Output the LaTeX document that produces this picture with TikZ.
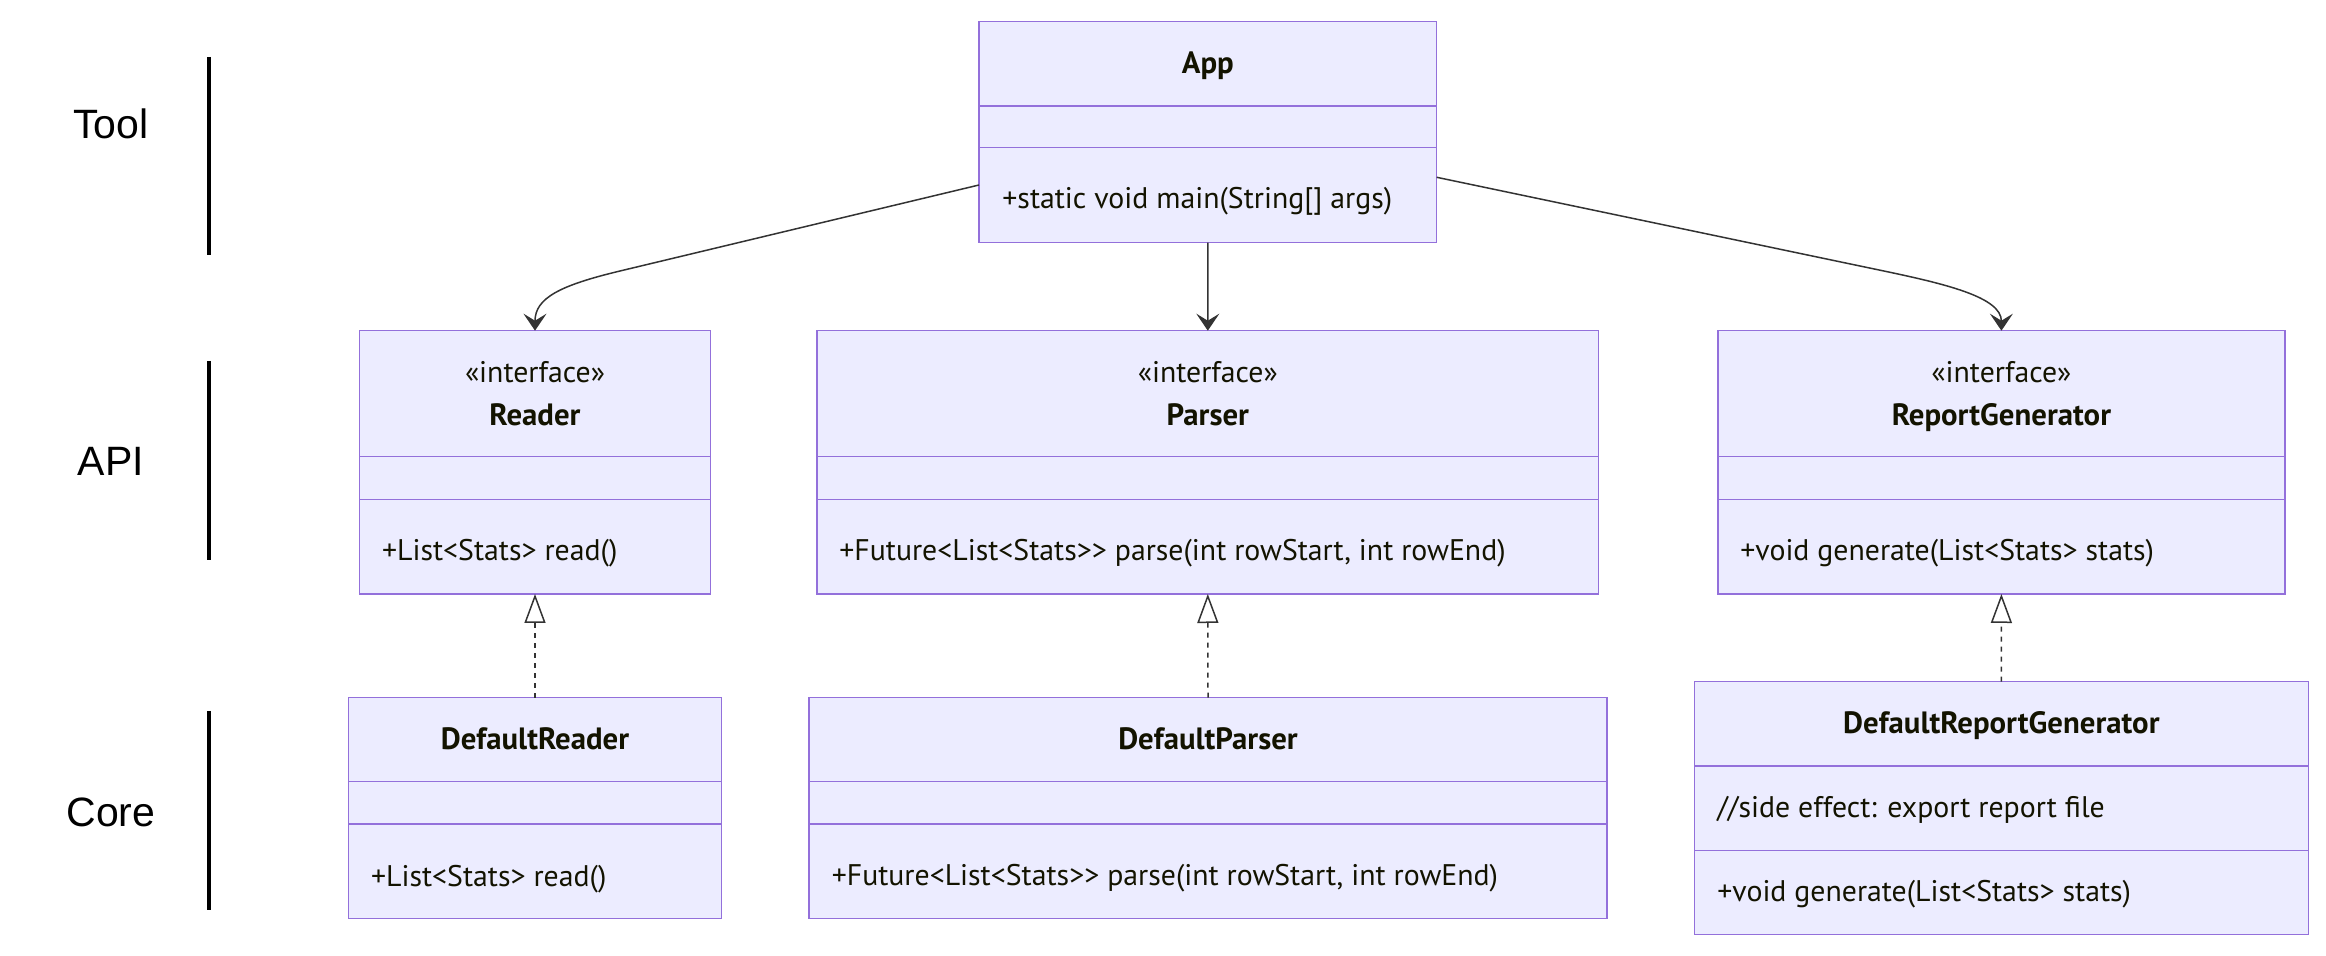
\documentclass[tikz,border=0pt]{standalone}
\usepackage{fontspec}
\setmainfont{PT Sans}[Ligatures=TeXOff]
\newfontfamily\labelfont{Liberation Sans}
\usetikzlibrary{arrows.meta,calc}
\definecolor{boxfill}{HTML}{ECECFF}
\definecolor{boxline}{HTML}{9370DB}
\definecolor{edgecol}{HTML}{333333}
\definecolor{txt}{HTML}{131300}
\begin{document}
\begin{tikzpicture}[x=0.5pt,y=-0.5pt,
  classbox/.style={draw=boxline, fill=boxfill, line width=0.7pt, inner sep=0pt, outer sep=0pt},
  divider/.style={draw=boxline, line width=0.7pt},
  titletext/.style={font=\bfseries\fontsize{15.4}{18}\selectfont, text=txt, anchor=base, inner sep=0pt},
  membertext/.style={font=\fontsize{14.9}{18}\selectfont, text=txt, anchor=base west, inner sep=0pt},
  stereotext/.style={font=\fontsize{14.9}{18}\selectfont, text=txt, anchor=base, inner sep=0pt},
  layerlabel/.style={font=\labelfont\fontsize{20.5}{24}\selectfont, text=black, anchor=center, inner sep=0pt},
  layerbar/.style={line width=2.3pt, draw=black},
  assoc/.style={draw=edgecol, line width=0.75pt, -{Stealth[length=8.5pt,width=11.5pt,inset=3.5pt]}},
  realize/.style={draw=edgecol, line width=0.75pt, dash pattern=on 2.5pt off 2.5pt, -{Triangle[open,fill=white,length=14.5pt,width=10.5pt]}},
]
\useasboundingbox (0,0) rectangle (2326,956);

% layer labels and bars
\node[layerlabel] (ltool) at (111,124) {Tool};
\node[layerlabel] (lapi) at (111,461) {API};
\node[layerlabel] (lcore) at (111,812) {Core};
\draw[layerbar] (209,57) -- (209,255);
\draw[layerbar] (209,361) -- (209,560);
\draw[layerbar] (209,711) -- (209,910);

% App
\node[classbox, minimum width=228.85pt, minimum height=110.5pt] (app) at (1207.85,132.2) {};
\draw[divider] (app.west |- 0,106) -- (app.east |- 0,106);
\draw[divider] (app.west |- 0,147.7) -- (app.east |- 0,147.7);
\node[titletext] (appT) at (1207.85,74) {App};
\node[membertext] (appM) at (1002,209) {+static void main(String[] args)};

% Reader
\node[classbox, minimum width=175.7pt, minimum height=131.65pt] (reader) at (535,462.35) {};
\draw[divider] (reader.west |- 0,456.7) -- (reader.east |- 0,456.7);
\draw[divider] (reader.west |- 0,499.3) -- (reader.east |- 0,499.3);
\node[stereotext] (readerS) at (535,382.7) {«interface»};
\node[titletext] (readerT) at (535,425.3) {Reader};
\node[membertext] (readerM) at (381.7,561) {+List<Stats> read()};

% Parser
\node[classbox, minimum width=390.8pt, minimum height=131.65pt] (parser) at (1207.8,462.35) {};
\draw[divider] (parser.west |- 0,456.7) -- (parser.east |- 0,456.7);
\draw[divider] (parser.west |- 0,499.3) -- (parser.east |- 0,499.3);
\node[stereotext] (parserS) at (1207.8,382.7) {«interface»};
\node[titletext] (parserT) at (1207.8,425.3) {Parser};
\node[membertext] (parserM) at (839,561) {+Future<List<Stats>> parse(int rowStart, int rowEnd)};

% ReportGenerator
\node[classbox, minimum width=283.4pt, minimum height=131.65pt] (rg) at (2001.4,462.35) {};
\draw[divider] (rg.west |- 0,456.7) -- (rg.east |- 0,456.7);
\draw[divider] (rg.west |- 0,499.3) -- (rg.east |- 0,499.3);
\node[stereotext] (rgS) at (2001.4,382.7) {«interface»};
\node[titletext] (rgT) at (2001.4,425.3) {ReportGenerator};
\node[membertext] (rgM) at (1740,561) {+void generate(List<Stats> stats)};

% DefaultReader
\node[classbox, minimum width=186.7pt, minimum height=110.5pt] (dreader) at (535,808.2) {};
\draw[divider] (dreader.west |- 0,781.7) -- (dreader.east |- 0,781.7);
\draw[divider] (dreader.west |- 0,824) -- (dreader.east |- 0,824);
\node[titletext] (dreaderT) at (535,750) {DefaultReader};
\node[membertext] (dreaderM) at (370.7,886.5) {+List<Stats> read()};

% DefaultParser
\node[classbox, minimum width=399.05pt, minimum height=110.5pt] (dparser) at (1208,808.2) {};
\draw[divider] (dparser.west |- 0,781.7) -- (dparser.east |- 0,781.7);
\draw[divider] (dparser.west |- 0,824) -- (dparser.east |- 0,824);
\node[titletext] (dparserT) at (1208,750) {DefaultParser};
\node[membertext] (dparserM) at (831.4,885) {+Future<List<Stats>> parse(int rowStart, int rowEnd)};

% DefaultReportGenerator
\node[classbox, minimum width=306.95pt, minimum height=126.3pt] (drg) at (2001.35,808) {};
\draw[divider] (drg.west |- 0,766) -- (drg.east |- 0,766);
\draw[divider] (drg.west |- 0,850.7) -- (drg.east |- 0,850.7);
\node[titletext] (drgT) at (2001.35,734) {DefaultReportGenerator};
\node[membertext] (drgA) at (1717,817.3) {//side effect: export report file};
\node[membertext] (drgM) at (1717,901.7) {+void generate(List<Stats> stats)};

% associations
\draw[assoc] ([yshift=-26.4pt]app.west) -- (620,271) .. controls (560,285.4) and (535,298) .. (reader.north);
\draw[assoc] (app.south) -- (parser.north);
\draw[assoc] ([yshift=-22.55pt]app.east) -- (1880,270.2) .. controls (1945,283.8) and (2001.4,297) .. (rg.north);

% realizations
\draw[realize] (dreader.north) -- (reader.south);
\draw[realize] (dparser.north) -- (parser.south);
\draw[realize] (drg.north) -- (rg.south);
\end{tikzpicture}
\end{document}
